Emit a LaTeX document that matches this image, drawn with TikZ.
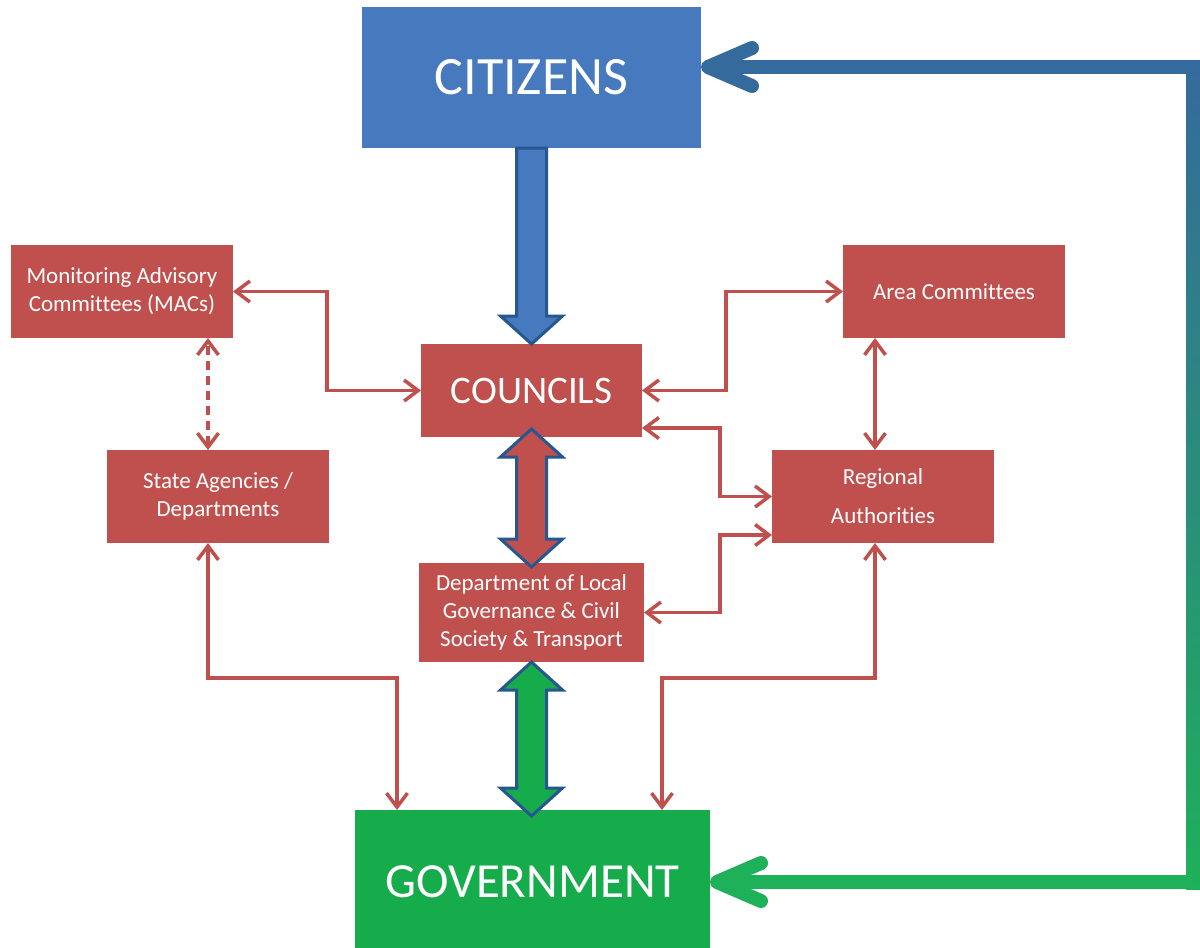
\documentclass[tikz,border=0pt]{standalone}
\usepackage{fontspec}
\setmainfont{Carlito}[Ligatures=NoCommon]
\usetikzlibrary{arrows.meta,calc}
\definecolor{cred}{HTML}{C0504D}
\definecolor{cblue}{HTML}{4679BD}
\definecolor{cgreen}{HTML}{17AC4B}
\definecolor{cedge}{HTML}{26578F}
\definecolor{gtop}{HTML}{356A9C}
\definecolor{gmid}{HTML}{C2D2EC}
\definecolor{gbot}{HTML}{1FB05A}
\newcommand\mysinglearrow[3]{%
  \path[bigarrow,fill=#3] let \p1=(#1), \p2=(#2) in
   (\x1-15pt,\y1) -- (\x1+15pt,\y1) -- (\x1+15pt,\y2+28pt) -- (\x1+31pt,\y2+28pt)
   -- (\x1,\y2) -- (\x1-31pt,\y2+28pt) -- (\x1-15pt,\y2+28pt) -- cycle;}
\newcommand\mydoublearrow[3]{%
  \path[bigarrow,fill=#3] let \p1=(#1), \p2=(#2) in
   (\x1,\y1) -- (\x1+31pt,\y1-28pt) -- (\x1+15pt,\y1-28pt) -- (\x1+15pt,\y2+28pt)
   -- (\x1+31pt,\y2+28pt) -- (\x1,\y2) -- (\x1-31pt,\y2+28pt) -- (\x1-15pt,\y2+28pt)
   -- (\x1-15pt,\y1-28pt) -- (\x1-31pt,\y1-28pt) -- cycle;}
\begin{document}
\begin{tikzpicture}[x=1pt,y=-1pt,
  box/.style={fill=cred, text=white, minimum width=222pt, minimum height=93pt,
    inner sep=0pt, outer sep=0pt, align=center, font=\fontsize{23}{28}\selectfont},
  bigbox/.style={text=white, inner sep=0pt, outer sep=0pt},
  rline/.style={draw=cred, line width=3.5pt,
    {Straight Barb[length=14pt,width=21pt]}-{Straight Barb[length=14pt,width=21pt]}},
  bigarrow/.style={draw=cedge, line width=3pt, line join=miter},
  gline/.style={line width=14pt, -{Straight Barb[length=44pt,width=38pt,round]}},
]
\useasboundingbox (0,0) rectangle (1200,948);
\fill[white] (0,0) rectangle (1200,948);

% boxes
\node[bigbox, fill=cblue, minimum width=339pt, minimum height=141pt,
  font=\fontsize{54}{60}\selectfont] (cit) at (531.5,77.5) {CITIZENS};
\node[bigbox, fill=cgreen, minimum width=355pt, minimum height=144pt,
  font=\fontsize{49}{56}\selectfont] (gov) at (532.5,882) {GOVERNMENT};
\node[box, minimum width=221pt, font=\fontsize{39}{44}\selectfont] (cou) at (531.5,390.5) {COUNCILS};
\node[box, minimum width=225pt, minimum height=99pt] (dep) at (531.5,612.5)
  {Department of Local\\Governance \& Civil\\Society \& Transport};
\node[box] (mac) at (122,291.5) {Monitoring Advisory\\Committees (MACs)};
\node[box] (sa) at (218,496.5) {State Agencies /\\Departments};
\node[box] (ac) at (954,291.5) {Area Committees};
\node[box, font=\fontsize{23}{39}\selectfont] (ra) at (883,496.5) {Regional\\Authorities};

% helper coordinates
\coordinate (v1) at (726,0);
\coordinate (hy) at (0,678);
\coordinate (g1) at ([xshift=42pt]gov.north west);
\coordinate (g2) at ([xshift=-48pt]gov.north east);
\coordinate (cu2) at ([yshift=9pt]cou.south east);
\coordinate (ra2) at ([yshift=8pt]ra.south west);
\coordinate (ra1) at ([xshift=-52pt]ra.west);
\coordinate (sax) at ([xshift=-10pt]sa.south);
\coordinate (sat) at ([xshift=-10pt]sa.north);
\coordinate (rab) at ([xshift=-8pt]ra.south);
\coordinate (rat) at ([xshift=-8pt]ra.north);
\coordinate (citr) at ([yshift=10.5pt]cit.east);
\coordinate (rx) at (1193,0);

% thin red connectors
\draw[rline] (mac.east) -| ($(mac.east)!.5!(cou.west)$) |- (cou.west);
\draw[rline, dash pattern=on 9pt off 6pt] (sat) -- (sat |- mac.south);
\draw[rline] (cou.east) -| (v1 |- ac.west) -- (ac.west);
\draw[rline] (cu2) -| (ra1) -- (ra.west);
\draw[rline] (dep.east) -| (ra1 |- ra2) -- (ra2);
\draw[rline] (rat |- ac.south) -- (rat);
\draw[rline] (sax) |- (g1 |- hy) -- (g1);
\draw[rline] (rab) |- (g2 |- hy) -- (g2);

% big arrows
\mysinglearrow{cit.south}{cou.north}{cblue}
\mydoublearrow{[yshift=8pt]cou.south}{[yshift=-4pt]dep.north}{cred}
\mydoublearrow{dep.south}{[yshift=-6pt]gov.north}{cgreen}

% gradient feedback connector
\shade[top color=gtop, middle color=gmid, bottom color=gbot] (1186,60) rectangle (1200,889);
\draw[gline, draw=gtop] (rx |- citr) -- (citr);
\draw[gline, draw=gbot] (rx |- gov.east) -- (gov.east);
\end{tikzpicture}
\end{document}
